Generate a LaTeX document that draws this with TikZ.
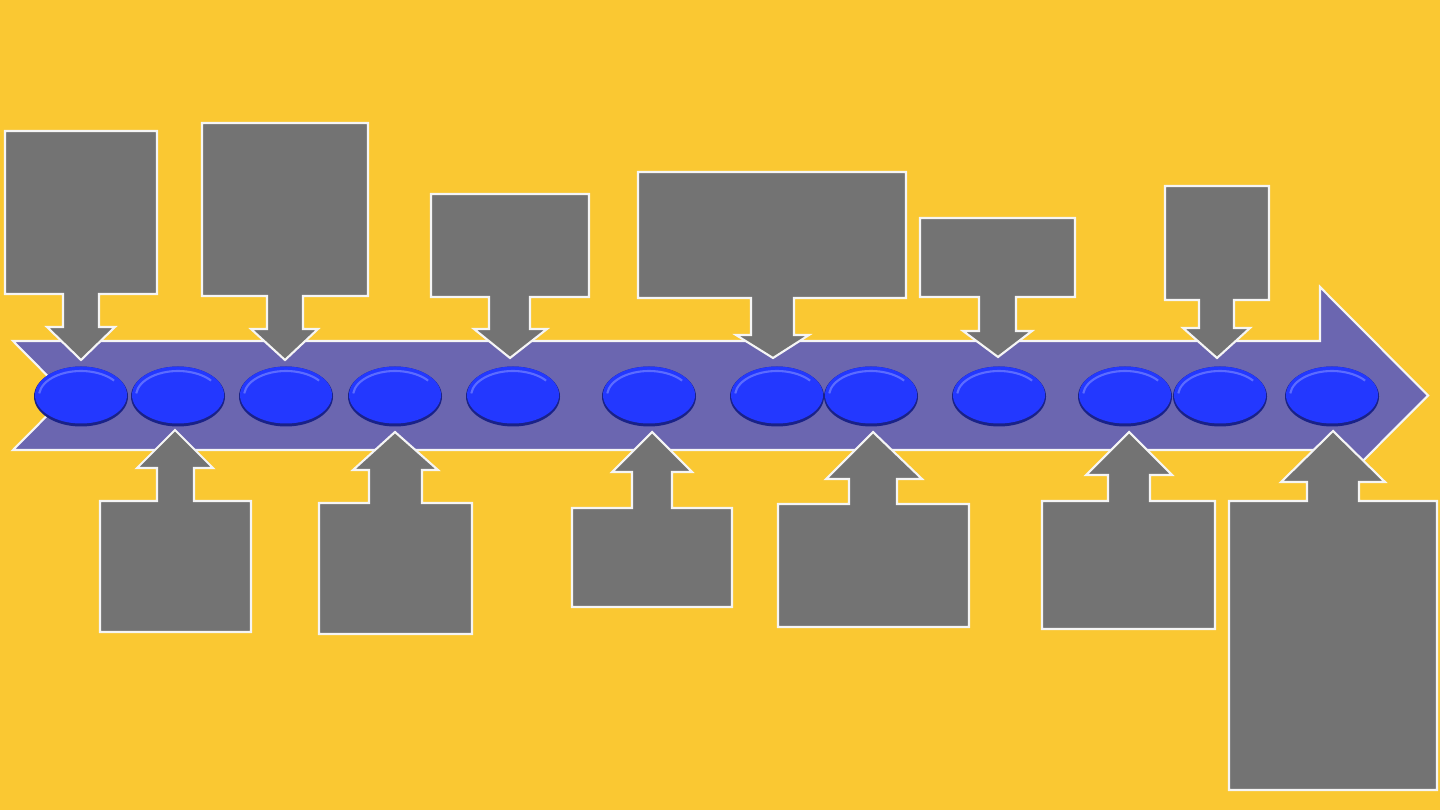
\documentclass[tikz,border=0pt]{standalone}
\usepackage{xcolor}
\usetikzlibrary{calc}

\definecolor{bgyellow}{HTML}{FAC832}
\definecolor{bandpurple}{HTML}{6B66B0}
\definecolor{boxgray}{HTML}{737373}
\definecolor{beadblue}{HTML}{2338FF}
\definecolor{beaddark}{HTML}{1A2288}
\definecolor{beadlight}{HTML}{5C6CFF}

\tikzset{
    callout/.style={fill=boxgray, draw=white!92!gray, line width=0.6pt, line join=miter},
    band/.style={fill=bandpurple, draw=white!92!gray, line width=0.6pt}
}

\begin{document}
\begin{tikzpicture}[x=0.01cm,y=-0.01cm]
        % background
        \fill[bgyellow] (0,0) rectangle (1440,810);
        \useasboundingbox (0,0) rectangle (1440,810);

        % the big arrow
        \coordinate (TL) at (13,341);
        \coordinate (BL) at (13,450);
        \coordinate (N) at (67,395.5);
        \coordinate (T) at (1428,395.5);
        \draw[band] (TL) -- (1320,341) -- (1320,287) -- (T) -- (1320,504) -- (1320,450) -- (BL) -- (N) -- cycle;

        % callouts above the arrow
        \foreach \bl/\far/\br/\base/\sl/\sr/\hy/\wl/\wr/\tx/\ty in {
            5/131/157/294/63/99/327/47/115/81/360,
            202/123/368/296/267/303/329/251/318/285/360,
            431/194/589/297/489/530/329/474/547/510/358,
            638/172/906/298/751/794/335/736/809/773/358,
            920/218/1075/297/979/1016/331/963/1032/998/357,
            1165/186/1269/300/1199/1234/328/1183/1250/1217/358}{
            \draw[callout] (\bl,\far) -- (\br,\far) -- (\br,\base) -- (\sr,\base) -- (\sr,\hy) -- (\wr,\hy) -- (\tx,\ty) -- (\wl,\hy) -- (\sl,\hy) -- (\sl,\base) -- (\bl,\base) -- cycle;
        }

        % callouts below the arrow
        \foreach \bl/\far/\br/\base/\sl/\sr/\hy/\wl/\wr/\tx/\ty in {
            100/632/251/501/157/194/468/137/213/175/430,
            319/634/472/503/369/422/470/353/438/395/432,
            572/607/732/508/632/672/472/612/692/652/432,
            778/627/969/504/849/897/479/826/922/873/432,
            1042/629/1215/501/1108/1150/475/1086/1172/1129/432,
            1229/790/1437/501/1307/1359/482/1281/1385/1333/431}{
            \draw[callout] (\bl,\far) -- (\br,\far) -- (\br,\base) -- (\sr,\base) -- (\sr,\hy) -- (\wr,\hy) -- (\tx,\ty) -- (\wl,\hy) -- (\sl,\hy) -- (\sl,\base) -- (\bl,\base) -- cycle;
        }

        % beads
        \foreach \x in {81,178,286,395,513,649,777,871,999,1125,1220,1332}{
            \fill[beaddark] (\x,396.5) ellipse (47 and 30);
            \fill[beadblue] (\x,395) ellipse (46 and 28.5);
            \draw[beadlight, line width=0.6pt] (\x,396) ++(186:42 and 25) arc[start angle=186, end angle=322, x radius=42, y radius=25];
        }
    \end{tikzpicture}
\end{document}
